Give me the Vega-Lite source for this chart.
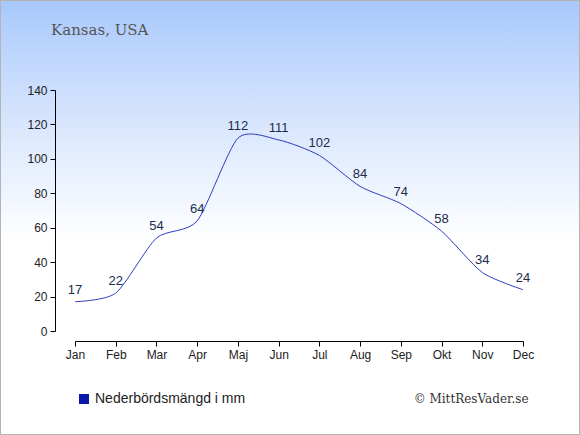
{
  "$schema": "https://vega.github.io/schema/vega-lite/v6.json",
  "width": 448,
  "height": 241,
  "autosize": {"type": "none"},
  "padding": {"left": 75, "top": 90, "right": 57, "bottom": 104},
  "background": "#ffffff",
  "config": {"view": {"stroke": null}},
  "title": {
    "text": "Kansas, USA",
    "anchor": "start",
    "frame": "group",
    "dx": -24,
    "offset": -50,
    "baseline": "alphabetic",
    "font": "DejaVu Serif",
    "fontSize": 15,
    "fontWeight": "normal",
    "color": "#555555",
    "zindex": 2
  },
  "data": {
    "values": [
      {"m": 1, "v": 17},
      {"m": 2, "v": 22},
      {"m": 3, "v": 54},
      {"m": 4, "v": 64},
      {"m": 5, "v": 112},
      {"m": 6, "v": 111},
      {"m": 7, "v": 102},
      {"m": 8, "v": 84},
      {"m": 9, "v": 74},
      {"m": 10, "v": 58},
      {"m": 11, "v": 34},
      {"m": 12, "v": 24}
    ]
  },
  "encoding": {
    "x": {
      "field": "m",
      "type": "quantitative",
      "scale": {"domain": [1, 12], "nice": false, "zero": false},
      "axis": {
        "values": [1, 2, 3, 4, 5, 6, 7, 8, 9, 10, 11, 12],
        "labelExpr": "['Jan','Feb','Mar','Apr','Maj','Jun','Jul','Aug','Sep','Okt','Nov','Dec'][datum.value - 1]",
        "offset": 10,
        "zindex": 2,
        "grid": false,
        "tickSize": 5,
        "tickColor": "#000000",
        "domainColor": "#000000",
        "labelFont": "Liberation Sans",
        "labelFontSize": 12,
        "labelColor": "#222222",
        "labelPadding": 3,
        "labelFlush": false,
        "title": "© MittResVader.se",
        "titleFont": "DejaVu Serif",
        "titleFontSize": 12,
        "titleFontWeight": "normal",
        "titleColor": "#333333",
        "titleAnchor": "end",
        "titleAlign": "right",
        "titleBaseline": "alphabetic",
        "titleX": 453,
        "titleY": 61
      }
    },
    "y": {
      "field": "v",
      "type": "quantitative",
      "scale": {"domain": [0, 140], "nice": false},
      "axis": {
        "values": [0, 20, 40, 60, 80, 100, 120, 140],
        "offset": 20,
        "zindex": 2,
        "grid": false,
        "tickSize": 5,
        "tickColor": "#000000",
        "domainColor": "#000000",
        "labelFont": "Liberation Sans",
        "labelFontSize": 12,
        "labelColor": "#222222",
        "labelPadding": 3,
        "title": null
      }
    }
  },
  "layer": [
    {
      "mark": {
        "type": "rect",
        "stroke": "#b4b4b4",
        "strokeWidth": 1,
        "fill": {
          "gradient": "linear",
          "x1": 0, "y1": 0, "x2": 0, "y2": 1,
          "stops": [
            {"offset": 0, "color": "#a8c8fc"},
            {"offset": 0.25, "color": "#d3e3fd"},
            {"offset": 0.55, "color": "#ffffff"},
            {"offset": 1, "color": "#ffffff"}
          ]
        }
      },
      "encoding": {
        "x": {"datum": -0.8293},
        "x2": {"datum": 13.3873},
        "y": {"datum": 191.99},
        "y2": {"datum": -60.12}
      }
    },
    {
      "mark": {"type": "line", "interpolate": "cardinal", "tension": 0.3, "strokeWidth": 1},
      "encoding": {
        "color": {
          "datum": "Nederbördsmängd i mm",
          "scale": {"range": ["#2b3cc0"]},
          "legend": {
            "title": null,
            "orient": "none",
            "legendX": 2,
            "legendY": 302,
            "symbolType": "square",
            "symbolSize": 100,
            "symbolFillColor": "#0a18a6",
            "symbolStrokeColor": "#0a18a6",
            "symbolStrokeWidth": 0,
            "labelFont": "Liberation Sans",
            "labelFontSize": 14,
            "labelColor": "#222222",
            "labelOffset": 4,
            "encode": {
              "symbols": {
                "update": {
                  "fill": {"value": "#0a18a6"},
                  "stroke": {"value": "#0a18a6"},
                  "strokeWidth": {"value": 0}
                }
              }
            }
          }
        }
      }
    },
    {
      "mark": {
        "type": "text",
        "dy": -12,
        "font": "Liberation Sans",
        "fontSize": 13,
        "color": "#1c2b4c"
      },
      "encoding": {
        "text": {"field": "v", "type": "quantitative"}
      }
    }
  ]
}
